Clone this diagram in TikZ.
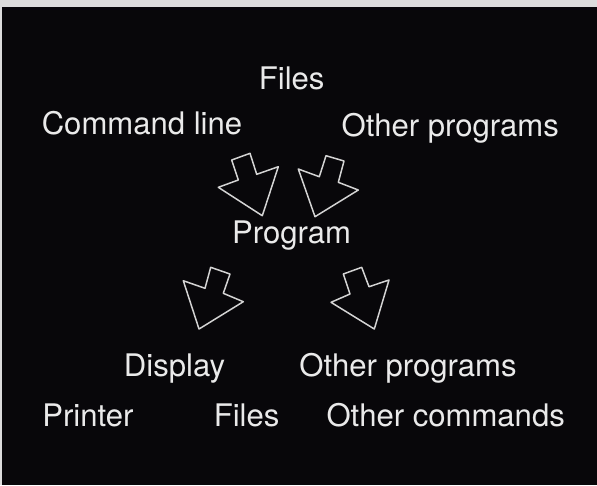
\documentclass[tikz,border=0pt]{standalone}
\usepackage{fontspec}
\setmainfont{TeX Gyre Heros}
\definecolor{screen}{HTML}{08070A}
\definecolor{chalk}{HTML}{EAEAEA}
\definecolor{outline}{HTML}{D4D4D4}
\definecolor{frame}{HTML}{DCDCDC}

\begin{document}
\begin{tikzpicture}[x=0.02cm,y=-0.02cm,
    label/.style={anchor=base,inner sep=0pt,text=chalk,font=\fontsize{17.7}{21}\selectfont},
    flow/.style={draw=outline,line width=0.85pt,line join=round}
]

% === Background ===
\fill[frame] (0,0) rectangle (597,485);
\fill[screen] (2,7) rectangle (597,485);
\useasboundingbox (0,0) rectangle (597,485);

% === Inputs ===
\node[label] (filesin) at (291.7,89.3) {Files};
\node[label] (cmdline) at (142,134) {Command line};
\node[label] (otherin) at (450.2,136.5) {Other programs};

% Arrows into the program
\draw[flow] (231.7,160) -- (250,153.3) -- (256.7,174.3) -- (278.3,166.7)
    -- (262.3,215.7) -- (218.3,187.3) -- (238.3,180) -- cycle;
\draw[flow] (326,155.7) -- (344,161) -- (338.3,182.3) -- (358.3,190)
    -- (315,216.7) -- (298.3,169) -- (319.3,176.7) -- cycle;

% === Program ===
\node[label] (program) at (291.5,243) {Program};

% Arrows out of the program
\draw[flow] (210.7,267.3) -- (230,274) -- (223.3,293.3) -- (243.3,301.7)
    -- (199,329) -- (183.3,280.7) -- (205,288.3) -- cycle;
\draw[flow] (343.3,274) -- (361.7,267.3) -- (369,286.7) -- (389,280)
    -- (374.3,329) -- (331,302.3) -- (350,294) -- cycle;

% === Outputs ===
\node[label] (display) at (174.5,376.8) {Display};
\node[label] (otherout) at (408,376.8) {Other programs};
\node[label] (printer) at (87.9,426) {Printer};
\node[label] (filesout) at (246.6,426) {Files};
\node[label] (commands) at (445.7,426) {Other commands};

\end{tikzpicture}
\end{document}
